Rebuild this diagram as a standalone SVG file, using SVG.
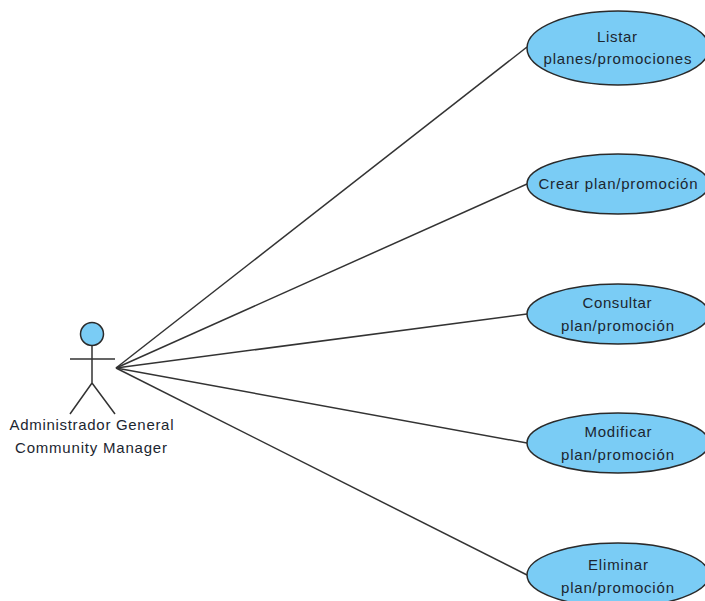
<svg xmlns="http://www.w3.org/2000/svg" width="705" height="601" viewBox="0 0 705 601">
<style>
.uc{fill:#7accf5;stroke:#2a2a2a;stroke-width:1.5}
.ln{fill:none;stroke:#333;stroke-width:1.5}
text{font-family:"Liberation Sans",Arial,sans-serif;font-size:15px;fill:#1c2630;text-anchor:middle}
</style>
<rect width="705" height="601" fill="#fff"/>
<g id="connectors" class="ln">
<line x1="116" y1="368" x2="527" y2="47"/>
<line x1="116" y1="368" x2="527" y2="184"/>
<line x1="116" y1="368" x2="527" y2="314"/>
<line x1="116" y1="368" x2="527" y2="443"/>
<line x1="116" y1="368" x2="527" y2="575"/>
</g>
<g id="actor">
<circle cx="92" cy="334" r="11.5" class="uc"/>
<path class="ln" d="M92 346V383M70 359H115M92 383L70 414M92 383L115 414"/>
<text x="91.500" y="430" textLength="164">Administrador General</text>
<text x="91" y="453" textLength="152">Community Manager</text>
</g>
<g id="uc1"><ellipse cx="618" cy="48" rx="91" ry="37" class="uc"/>
<text x="617" y="42" textLength="40">Listar</text><text x="617.500" y="64" textLength="148">planes/promociones</text></g>
<g id="uc2"><ellipse cx="618" cy="184" rx="91" ry="30" class="uc"/>
<text x="618" y="189" textLength="159">Crear plan/promoción</text></g>
<g id="uc3"><ellipse cx="618" cy="314" rx="91" ry="30" class="uc"/>
<text x="617" y="308" textLength="69">Consultar</text><text x="617.500" y="331" textLength="113">plan/promoción</text></g>
<g id="uc4"><ellipse cx="618" cy="443" rx="91" ry="30" class="uc"/>
<text x="618" y="437" textLength="67">Modificar</text><text x="617.500" y="460" textLength="113">plan/promoción</text></g>
<g id="uc5"><ellipse cx="618" cy="575" rx="91" ry="32" class="uc"/>
<text x="618" y="570" textLength="60">Eliminar</text><text x="617.500" y="593" textLength="113">plan/promoción</text></g>
</svg>
